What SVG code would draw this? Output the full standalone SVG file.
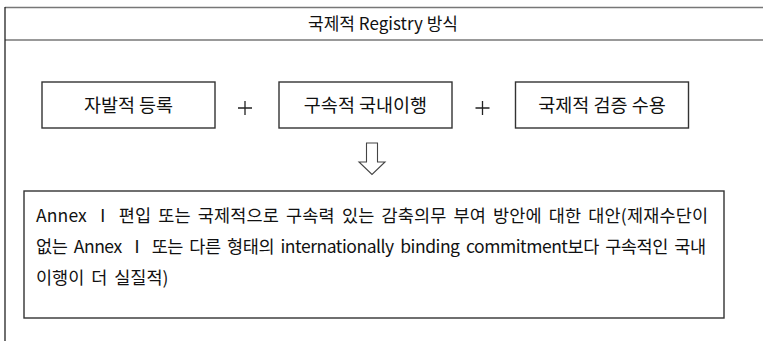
<svg xmlns="http://www.w3.org/2000/svg" width="763" height="341" viewBox="0 0 763 341">
<style>
.t{font-family:"Noto Sans CJK KR","Liberation Sans",sans-serif;fill:#111;}
.box{fill:#fff;stroke:#333;stroke-width:1.4;}
.hl{stroke:#777;stroke-width:1.6;}
.b{font-size:17.5px;word-spacing:3px;}
</style>
<rect width="763" height="341" fill="#fff"/>
<g id="frame">
<line class="hl" x1="5" y1="7.5" x2="763" y2="7.5"/>
<line class="hl" x1="5" y1="40" x2="763" y2="40"/>
<line x1="5" y1="7" x2="5" y2="341" stroke="#222" stroke-width="1.3"/>
<text class="t" x="383" y="30" font-size="17" text-anchor="middle">국제적 Registry 방식</text>
</g>
<g id="n1">
<rect class="box" x="42" y="82" width="173" height="46"/>
<text class="t" x="128.5" y="111.5" font-size="18.5" text-anchor="middle">자발적 등록</text>
</g>
<g id="n2">
<rect class="box" x="279" y="82" width="173" height="46"/>
<text class="t" x="365.5" y="111.5" font-size="18.5" text-anchor="middle">구속적 국내이행</text>
</g>
<g id="n3">
<rect class="box" x="515.5" y="82" width="173" height="46"/>
<text class="t" x="602" y="111.5" font-size="18.5" text-anchor="middle">국제적 검증 수용</text>
</g>
<g id="connectors">
<path d="M238 108H252M245 101V115" stroke="#222" stroke-width="1.3" fill="none"/>
<path d="M475.5 108H489.5M482.5 101V115" stroke="#222" stroke-width="1.3" fill="none"/>
<path d="M366.5 143H377.5V162H385L372 174.5L359 162H366.5Z" fill="#fff" stroke="#444" stroke-width="1.1"/>
</g>
<g id="n4">
<rect class="box" x="24" y="191" width="700" height="127"/>
<text class="t b" x="36" y="222" textLength="672" lengthAdjust="spacing">Annex Ⅰ 편입 또는 국제적으로 구속력 있는 감축의무 부여 방안에 대한 대안(제재수단이</text>
<text class="t b" x="36" y="253" textLength="670" lengthAdjust="spacing">없는 Annex Ⅰ 또는 다른 형태의 internationally binding commitment보다 구속적인 국내</text>
<text class="t b" x="36" y="284">이행이 더 실질적)</text>
</g>
</svg>
